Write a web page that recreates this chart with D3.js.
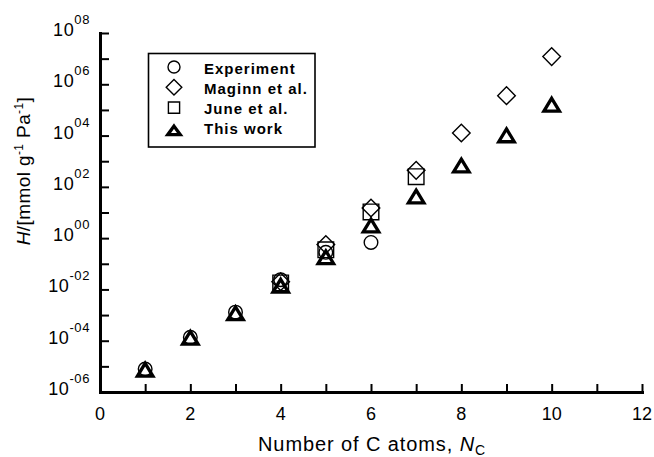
<!DOCTYPE html>
<html>
<head>
<meta charset="utf-8">
<script src="https://cdn.jsdelivr.net/npm/d3@7/dist/d3.min.js"></script>
<style>
  html, body { margin: 0; padding: 0; background: #fff; }
  svg { display: block; font-family: "Liberation Sans", Arial, Helvetica, sans-serif; }
</style>
</head>
<body>
<svg id="chart" width="654" height="457"></svg>
<script>
// Henry's constants H [mmol g-1 Pa-1] versus number of carbon atoms
const experimentN = [1, 2, 3, 4, 5, 6];
const experimentH = [7.9e-6, 1.35e-4, 1.3e-3, 2.4e-2, 0.28, 0.68];

const maginnN = [4, 5, 6, 7, 8, 9, 10];
const maginnH = [2.0e-2, 0.56, 15, 440, 1.26e4, 3.6e5, 1.2e7];

const juneN = [4, 5, 6, 7];
const juneH = [1.8e-2, 0.35, 10.5, 250];

const thisWorkN = [1, 2, 3, 4, 5, 6, 7, 8, 9, 10];
const thisWorkH = [7.4e-6, 1.3e-4, 1.17e-3, 1.4e-2, 0.18, 3.1, 42, 680, 1.02e4, 1.6e5];

const xTickLabels = [0, 2, 4, 6, 8, 10, 12];
const yExponents = [-6, -5, -4, -3, -2, -1, 0, 1, 2, 3, 4, 5, 6, 7, 8];
const yLabelExponents = [-6, -4, -2, 0, 2, 4, 6, 8];

const legendNames = ["Experiment", "Maginn et al.", "June et al.", "This work"];
const legendShapes = ["circle", "diamond", "square", "triangle"];

const svg = d3.select("#chart");
const x = d3.scaleLinear().domain([0, 12]).range([100, 642]);
const y = d3.scaleLog().domain([1e-6, 1e8]).range([392, 33]);

// marker path generators (centred on the point)
function shapePath(kind, s) {
  const p = d3.path();
  if (kind === "circle") {
    p.arc(0, 0, s.r, 0, 2 * Math.PI); p.closePath();
  } else if (kind === "diamond") {
    p.moveTo(0, -s.d); p.lineTo(s.d, 0); p.lineTo(0, s.d); p.lineTo(-s.d, 0); p.closePath();
  } else if (kind === "square") {
    p.rect(-s.a, -s.a, 2 * s.a, 2 * s.a);
  } else {
    p.moveTo(0, -s.h / 2); p.lineTo(s.w / 2, s.h / 2); p.lineTo(-s.w / 2, s.h / 2); p.closePath();
  }
  return p.toString();
}
const plotSize = { r: 6.8, d: 8.8, a: 7.8, w: 15.5, h: 12.8 };
const legendSize = { r: 6, d: 7.8, a: 5.6, w: 12.5, h: 8.6 };
const strokeFor = k => k === "triangle" ? 3.3 : 1.4;

// axes
const yAxis = d3.axisLeft(y).tickValues(yExponents.map(e => Math.pow(10, e)))
  .tickSizeInner(-9).tickSizeOuter(0).tickFormat("");
const xAxis = d3.axisBottom(x).tickValues(d3.range(0, 13, 1))
  .tickSizeInner(-8).tickSizeOuter(0).tickFormat("");

const gy = svg.append("g").attr("transform", "translate(100,0)").call(yAxis);
const gx = svg.append("g").attr("transform", "translate(0,392)").call(xAxis);
[gy, gx].forEach(g => {
  g.select(".domain").attr("stroke", "#000").attr("stroke-width", 3).attr("stroke-linecap", "square");
  g.selectAll(".tick line").attr("stroke", "#000").attr("stroke-width", 2);
});

// y tick labels: 10 with two-digit exponents
yLabelExponents.forEach(e => {
  const t = svg.append("text")
    .attr("x", 90).attr("y", y(Math.pow(10, e)) + 3)
    .attr("text-anchor", "end").attr("font-size", 18).attr("letter-spacing", 0.6)
    .attr("fill", "#000");
  t.append("tspan").text("10");
  const ex = (e < 0 ? "-" : "") + String(Math.abs(e)).padStart(2, "0");
  t.append("tspan").attr("font-size", 13).attr("dy", -12).text(ex);
});

// x tick labels
svg.append("g").selectAll("text").data(xTickLabels).join("text")
  .attr("x", d => x(d)).attr("y", 420)
  .attr("text-anchor", "middle").attr("font-size", 18).attr("fill", "#000")
  .text(d => d);

// axis titles
const xt = svg.append("text").attr("x", 372).attr("y", 451)
  .attr("text-anchor", "middle").attr("font-size", 20).attr("letter-spacing", 0.9).attr("fill", "#000");
xt.append("tspan").text("Number of C atoms, ");
xt.append("tspan").attr("font-style", "italic").text("N");
xt.append("tspan").attr("font-size", 14).attr("dy", 4).text("C");

const yt = svg.append("text").attr("transform", "translate(30,171) rotate(-90)")
  .attr("text-anchor", "middle").attr("font-size", 19).attr("letter-spacing", 0.4).attr("fill", "#000");
yt.append("tspan").attr("font-style", "italic").text("H");
yt.append("tspan").text("/[mmol g");
yt.append("tspan").attr("font-size", 12).attr("dy", -7).text("-1");
yt.append("tspan").attr("dy", 7).text(" Pa");
yt.append("tspan").attr("font-size", 12).attr("dy", -7).text("-1");
yt.append("tspan").attr("dy", 7).text("]");

// data markers
const series = [
  { kind: "circle", n: experimentN, h: experimentH },
  { kind: "diamond", n: maginnN, h: maginnH },
  { kind: "square", n: juneN, h: juneH },
  { kind: "triangle", n: thisWorkN, h: thisWorkH }
];
const gm = svg.append("g");
series.forEach(s => {
  gm.append("g").selectAll("path").data(s.n.map((n, i) => [n, s.h[i]])).join("path")
    .attr("transform", d => `translate(${x(d[0])},${y(d[1])})`)
    .attr("d", shapePath(s.kind, plotSize))
    .attr("fill", "none").attr("stroke", "#000")
    .attr("stroke-width", strokeFor(s.kind)).attr("stroke-linejoin", "miter");
});

// legend
const lg = svg.append("g");
lg.append("rect").attr("x", 148.5).attr("y", 53.5).attr("width", 166.5).attr("height", 93.5)
  .attr("fill", "#fff").attr("stroke", "#000").attr("stroke-width", 1.6);
legendNames.forEach((name, i) => {
  const base = 73.5 + i * 20.3;
  const k = legendShapes[i];
  lg.append("path").attr("transform", `translate(174,${base - (k === "triangle" ? 4 : 6.5)})`)
    .attr("d", shapePath(k, legendSize))
    .attr("fill", "none").attr("stroke", "#000").attr("stroke-width", strokeFor(k));
  lg.append("text").attr("x", 204).attr("y", base)
    .attr("font-size", 15).attr("font-weight", "bold").attr("letter-spacing", 1)
    .attr("fill", "#000").text(name);
});
</script>
</body>
</html>
